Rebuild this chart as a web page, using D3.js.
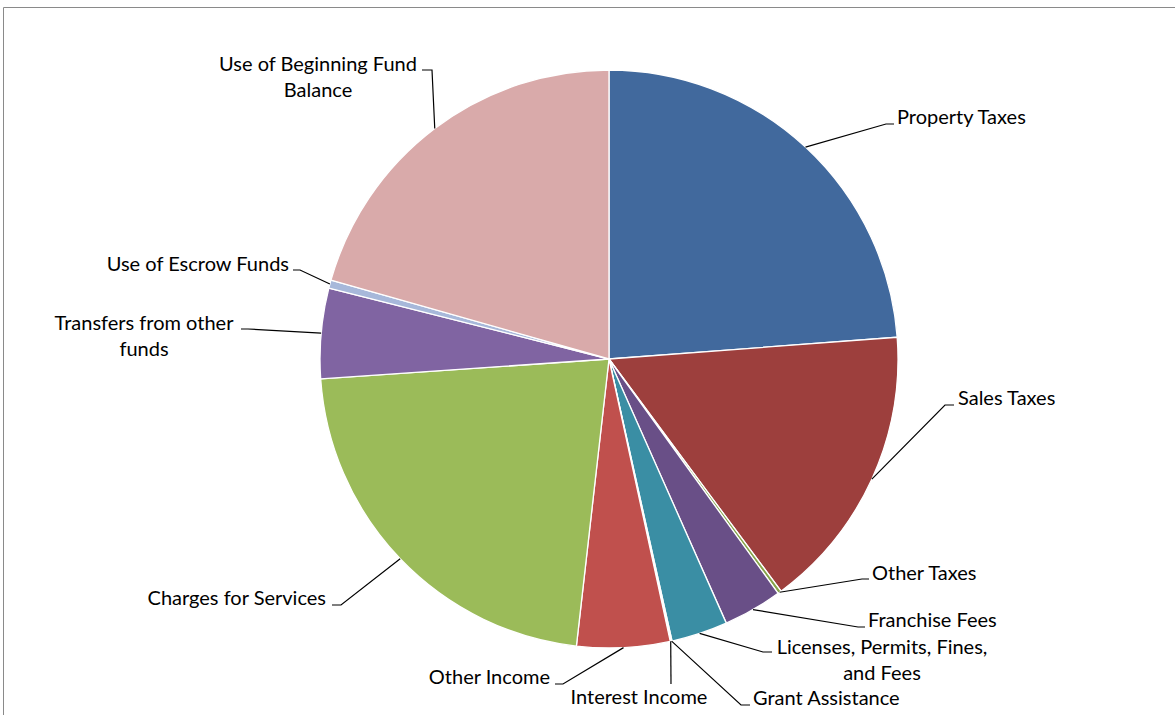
<!DOCTYPE html>
<html>
<head>
<meta charset="utf-8">
<script src="https://cdn.jsdelivr.net/npm/d3@7"></script>
<style>
  html, body { margin: 0; padding: 0; background: #ffffff; }
  svg { display: block; }
  text { font-family: Lato, "Open Sans", sans-serif; fill: #000; }
</style>
</head>
<body>
<svg id="chart" width="1175" height="715"></svg>
<script>
// Revenue sources (share of total, %)
const categories = [
  "Property Taxes", "Sales Taxes", "Other Taxes", "Franchise Fees",
  "Licenses, Permits, Fines, and Fees", "Grant Assistance", "Interest Income",
  "Other Income", "Charges for Services", "Transfers from other funds",
  "Use of Escrow Funds", "Use of Beginning Fund Balance"
];
const values = [23.8, 16.05, 0.2, 3.3, 3.15, 0.05, 0.05, 5.2, 22.1, 5.05, 0.45, 20.6];
const colors = [
  "#41699d", "#9d3f3d", "#86a44a", "#694f87", "#3a8ea4", "#d27c2c",
  "#7f9fcf", "#c0504d", "#9bbb59", "#8064a2", "#a7b8da", "#d9aaaa"
];

// Label text lines (wrapped as displayed)
const labelLines = [
  ["Property Taxes"], ["Sales Taxes"], ["Other Taxes"], ["Franchise Fees"],
  ["Licenses, Permits, Fines,", "and Fees"], ["Grant Assistance"], ["Interest Income"],
  ["Other Income"], ["Charges for Services"], ["Transfers from other", "funds"],
  ["Use of Escrow Funds"], ["Use of Beginning Fund", "Balance"]
];

// Label placement: text anchor point, leader elbow and leader end
const labelLayout = [
  { x: 897, y: 117, anchor: "start",  elbow: [886, 124], end: [894, 124] },
  { x: 958, y: 398, anchor: "start",  elbow: [945, 405], end: [954, 405] },
  { x: 872, y: 573, anchor: "start",  elbow: [862, 579], end: [869, 579] },
  { x: 868, y: 620, anchor: "start",  elbow: [858, 627], end: [865, 627] },
  { x: 882, y: 647, anchor: "middle", elbow: [763, 652], end: [772, 652] },
  { x: 753, y: 698, anchor: "start",  elbow: [741, 705], end: [750, 705] },
  { x: 639, y: 697, anchor: "middle", elbow: [671, 684], end: [671, 684] },
  { x: 550, y: 677, anchor: "end",    elbow: [563, 684], end: [555, 684] },
  { x: 326, y: 598, anchor: "end",    elbow: [341, 605], end: [332, 605] },
  { x: 144, y: 323, anchor: "middle", elbow: [248, 329], end: [241, 329] },
  { x: 289, y: 264, anchor: "end",    elbow: [300, 270], end: [293, 270] },
  { x: 318, y: 64,  anchor: "middle", elbow: [432, 70],  end: [422, 70] }
];

const svg = d3.select("#chart");
const W = 1175, H = 715;
const cx = 609, cy = 359, R = 289;

// Chart area frame
svg.append("path")
  .attr("d", `M3.5,${H} V7.5 H${W}`)
  .attr("fill", "none")
  .attr("stroke", "#8a8a8a")
  .attr("stroke-width", 1);

const pie = d3.pie().sort(null).value(d => d).startAngle(0).endAngle(2 * Math.PI);
const arcs = pie(values);
const arc = d3.arc().innerRadius(0).outerRadius(R);

const g = svg.append("g").attr("transform", `translate(${cx},${cy})`);

g.selectAll("path.slice")
  .data(arcs)
  .join("path")
  .attr("class", "slice")
  .attr("d", arc)
  .attr("fill", (d, i) => colors[i])
  .attr("stroke", "#ffffff")
  .attr("stroke-width", 1.3)
  .attr("stroke-linejoin", "round");

// Leader lines from each slice edge to its label
const edgePoint = d => {
  const a = (d.startAngle + d.endAngle) / 2;
  return [cx + R * Math.sin(a), cy - R * Math.cos(a)];
};

svg.append("g")
  .selectAll("path.leader")
  .data(arcs)
  .join("path")
  .attr("class", "leader")
  .attr("d", (d, i) => {
    const p = edgePoint(d);
    const L = labelLayout[i];
    return d3.line()([p, L.elbow, L.end]);
  })
  .attr("fill", "none")
  .attr("stroke", "#000")
  .attr("stroke-width", 1.2);

// Labels
const lineH = 26;
const labels = svg.append("g")
  .selectAll("text.label")
  .data(arcs)
  .join("text")
  .attr("class", "label")
  .attr("font-size", 20)
  .attr("text-anchor", (d, i) => labelLayout[i].anchor)
  .attr("x", (d, i) => labelLayout[i].x)
  .attr("y", (d, i) => labelLayout[i].y);

labels.each(function(d, i) {
  const t = d3.select(this);
  labelLines[i].forEach((ln, k) => {
    t.append("tspan")
      .attr("x", labelLayout[i].x)
      .attr("y", labelLayout[i].y + k * lineH)
      .attr("dy", "0.35em")
      .text(ln);
  });
});
</script>
</body>
</html>
